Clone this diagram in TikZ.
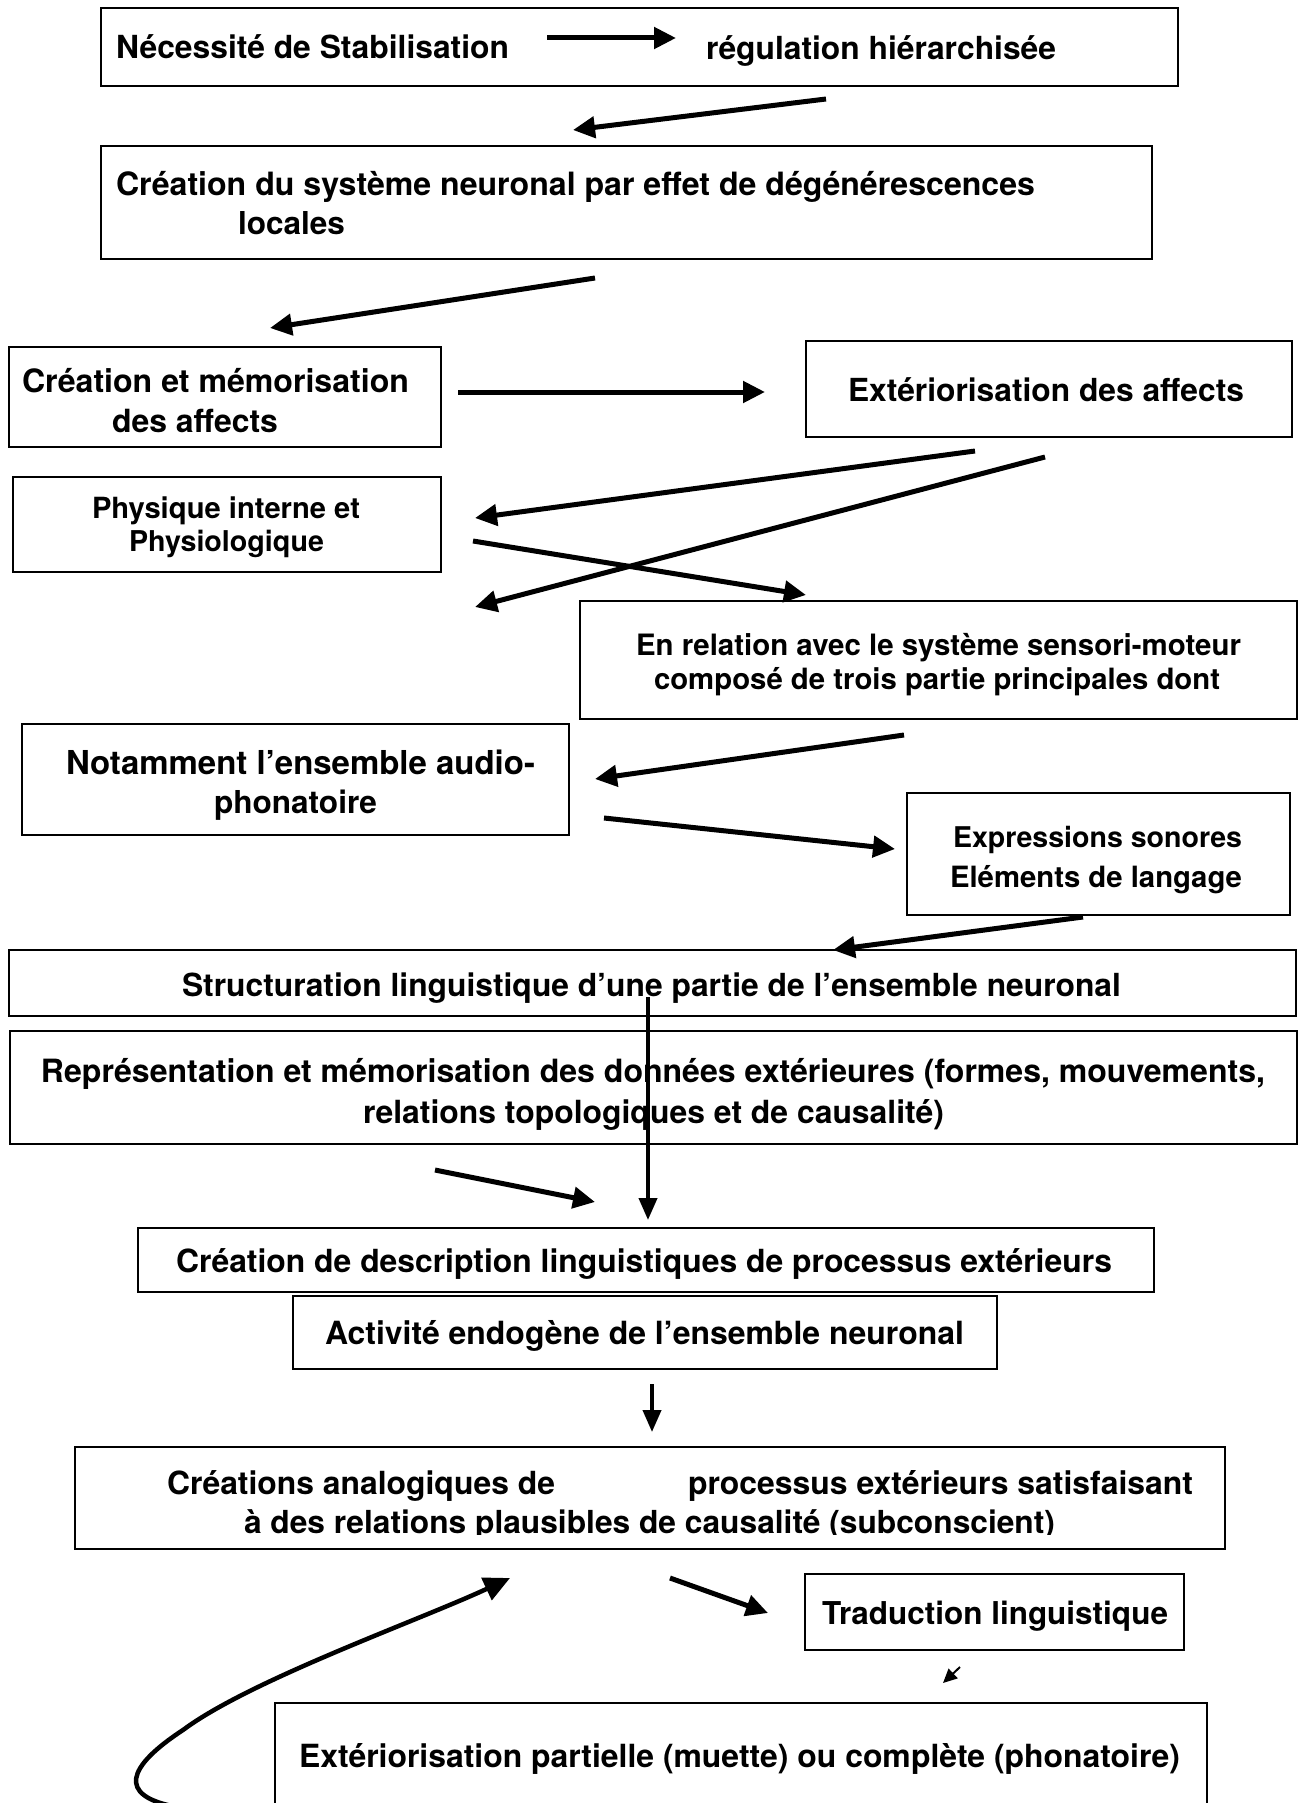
\documentclass[tikz,border=0pt]{standalone}
\usepackage{fontspec}
\setmainfont{TeX Gyre Heros}
\usetikzlibrary{arrows.meta}
\newlength\fitlen
\newcommand\fittext[2]{\setbox0\hbox{\fontsize{10pt}{12pt}\selectfont\bfseries #2}\fitlen=\wd0\relax\pgfmathsetmacro\fitfs{#1/\fitlen*10}\fontsize{\fitfs pt}{\fitfs pt}\selectfont\bfseries #2}
\begin{document}
\begin{tikzpicture}[x=1pt,y=-1pt,
  box/.style={draw, line width=1.6pt, inner sep=0pt, anchor=center},
  lbl/.style={inner sep=0pt, anchor=center},
  arr/.style={line width=5pt, -{Triangle[length=22pt,width=21pt]}},
  tarr/.style={line width=4pt, -{Triangle[length=22pt,width=18pt]}}]
\useasboundingbox[fill=white] (0,0) rectangle (1304,1803);
% boxes
\node[box, minimum width=1077pt, minimum height=78pt]  (b1)  at (639.5,47) {};
\node[box, minimum width=1051pt, minimum height=113pt] (b2)  at (626.5,202.5) {};
\node[box, minimum width=432pt,  minimum height=100pt] (b3)  at (225,397) {};
\node[box, minimum width=486pt,  minimum height=96pt]  (b4)  at (1049,389) {};
\node[box, minimum width=428pt,  minimum height=95pt]  (b5)  at (227,524.5) {};
\node[box, minimum width=717pt,  minimum height=118pt] (b6)  at (938.5,660) {};
\node[box, minimum width=547pt,  minimum height=111pt] (b7)  at (295.5,779.5) {};
\node[box, minimum width=383pt,  minimum height=122pt] (b8)  at (1098.5,854) {};
\node[box, minimum width=1287pt, minimum height=66pt]  (b9)  at (652.5,983) {};
\node[box, minimum width=1287pt, minimum height=113pt] (b10) at (653.5,1087.5) {};
\node[box, minimum width=1016pt, minimum height=64pt]  (b11) at (646,1260) {};
\node[box, minimum width=704pt,  minimum height=73pt]  (b12) at (645,1332.5) {};
\node[box, minimum width=1150pt, minimum height=102pt] (b13) at (650,1498) {};
\node[box, minimum width=379pt,  minimum height=76pt]  (b14) at (994.5,1612) {};
\node[box, minimum width=932pt,  minimum height=140pt] (b15) at (741,1773) {};
% texts
\node[lbl] (t1a) at (312.5,47) {\fittext{393}{Nécessité de Stabilisation}};
\node[lbl] (t1b) at (881,51) {\fittext{350}{régulation hiérarchisée}};
\node[lbl] (t2a) at (575.5,187) {\fittext{919}{Création du système neuronal par effet de dégénérescences}};
\node[lbl] (t2b) at (291.5,223) {\fittext{107}{locales}};
\node[lbl] (t3a) at (215.5,381) {\fittext{387}{Création et mémorisation}};
\node[lbl] (t3b) at (195,421) {\fittext{166}{des affects}};
\node[lbl] (t4)  at (1046,390) {\fittext{396}{Extériorisation des affects}};
\node[lbl] (t5a) at (226,511) {\fittext{268}{Physique interne et}};
\node[lbl] (t5b) at (226.5,544) {\fittext{195}{Physiologique}};
\node[lbl] (t6a) at (938.5,648) {\fittext{605}{En relation avec le système sensori-moteur}};
\node[lbl] (t6b) at (937,682) {\fittext{566}{composé de trois partie principales dont}};
\node[lbl] (t7a) at (300.5,762) {\fittext{469}{Notamment l’ensemble audio-}};
\node[lbl] (t7b) at (295.5,805) {\fittext{163}{phonatoire}};
\node[lbl] (t8a) at (1097.5,840) {\fittext{289}{Expressions sonores}};
\node[lbl] (t8b) at (1096,880) {\fittext{292}{Eléments de langage}};
\node[lbl] (t9)  at (651.5,988) {\fittext{939}{Structuration linguistique d’une partie de l’ensemble neuronal}};
\node[lbl] (t10a) at (653,1074) {\fittext{1224}{Représentation et mémorisation des données extérieures (formes, mouvements,}};
\node[lbl] (t10b) at (653.5,1115) {\fittext{581}{relations topologiques et de causalité)}};
\node[lbl] (t11) at (644,1264) {\fittext{936}{Création de description linguistiques de processus extérieurs}};
\node[lbl] (t12) at (644.5,1336) {\fittext{639}{Activité endogène de l’ensemble neuronal}};
\node[lbl] (t13a) at (361,1485.5) {\fittext{388}{Créations analogiques de}};
\node[lbl] (t13b) at (940.5,1485.5) {\fittext{505}{processus extérieurs satisfaisant}};
\begin{scope}
\clip (0,0) rectangle (1304,1534);
\node[lbl] (t13c) at (649.5,1525) {\fittext{811}{à des relations plausibles de causalité (subconscient)}};
\end{scope}
\node[lbl] (t14) at (995,1616.5) {\fittext{346}{Traduction linguistique}};
\node[lbl] (t15) at (739.5,1759) {\fittext{881}{Extériorisation partielle (muette) ou complète (phonatoire)}};
% arrow end points
\coordinate (i1) at (547,38);   \coordinate (i2) at (676,38);
\coordinate (p1) at (826,99);   \coordinate (q1) at (573,130);
\coordinate (p2) at (595,278);  \coordinate (q2) at (270,328);
\coordinate (p3) at (458,392);  \coordinate (q3) at (765,392);
\coordinate (pA) at (975,451);  \coordinate (qA) at (475,518);
\coordinate (pB) at (1045,457); \coordinate (qB) at (475,607);
\coordinate (pC) at (473,541);  \coordinate (qC) at (806,595);
\coordinate (pD) at (904,735);  \coordinate (qD) at (595,779);
\coordinate (pE) at (604,818);  \coordinate (qE) at (895,849);
\coordinate (pF) at (1083,917); \coordinate (qF) at (833,950);
\coordinate (pV) at (648,997);  \coordinate (qV) at (648,1220);
\coordinate (pG) at (435,1170); \coordinate (qG) at (595,1202);
\coordinate (pH) at (652,1384); \coordinate (qH) at (652,1432);
\coordinate (pI) at (670,1578); \coordinate (qI) at (768,1613);
\coordinate (pT) at (960,1667); \coordinate (qT) at (943,1683);
\coordinate (pK) at (172,1806); \coordinate (mK) at (183,1730); \coordinate (qK) at (510,1578);
% arrows
\draw[arr] (i1) -- (i2);
\draw[arr] (p1) -- (q1);
\draw[arr] (p2) -- (q2);
\draw[arr] (p3) -- (q3);
\draw[arr] (pA) -- (qA);
\draw[arr] (pB) -- (qB);
\draw[arr] (pC) -- (qC);
\draw[arr] (pD) -- (qD);
\draw[arr] (pE) -- (qE);
\draw[arr] (pF) -- (qF);
\draw[tarr] (pV) -- (qV);
\draw[arr] (pG) -- (qG);
\draw[tarr] (pH) -- (qH);
\draw[arr] (pI) -- (qI);
\draw[line width=2pt, -{Triangle[length=14pt,width=13pt]}] (pT) -- (qT);
\draw[line width=4.5pt, -{Triangle[length=26pt,width=24pt]}] (pK) .. controls (120,1795) and (125,1768) .. (mK) .. controls (250,1680) and (420,1620) .. (qK);
\end{tikzpicture}
\end{document}
